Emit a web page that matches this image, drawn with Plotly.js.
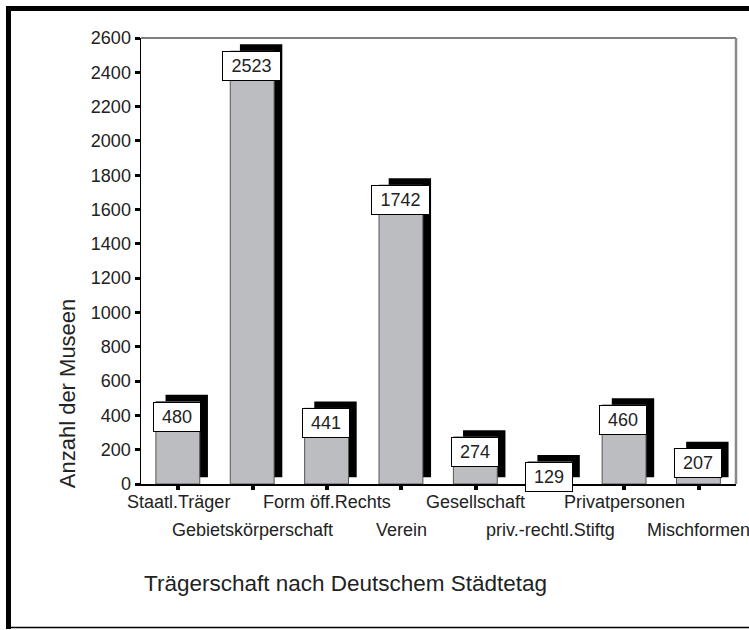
<!DOCTYPE html>
<html>
<head>
<meta charset="utf-8">
<script src="https://cdn.plot.ly/plotly-3.0.1.min.js"></script>
<style>
  html, body { margin: 0; padding: 0; background: #fff; }
  #chart { width: 749px; height: 630px; }
</style>
</head>
<body>
<div id="chart"></div>
<script>
const categories = ["Staatl.Träger", "Gebietskörperschaft", "Form öff.Rechts", "Verein",
                    "Gesellschaft", "priv.-rechtl.Stiftg", "Privatpersonen", "Mischformen"];
const counts = [480, 2523, 441, 1742, 274, 129, 460, 207];
const yTickValues = [0, 200, 400, 600, 800, 1000, 1200, 1400, 1600, 1800, 2000, 2200, 2400, 2600];
const xTitle = "Trägerschaft nach Deutschem Städtetag";
const yTitle = "Anzahl der Museen";

const FONT = "'Liberation Sans', Arial, Helvetica, sans-serif";
const TXT = "#222";
const shadowLift = 40;   // visual offset of the 3D shadow (data units)

const shadow = {
  type: "bar", x: categories, y: counts, base: shadowLift,
  width: 0.57, offset: -0.17,
  marker: { color: "#000", line: { width: 0 } },
  hoverinfo: "skip", showlegend: false
};
const bars = {
  type: "bar", x: categories, y: counts,
  width: 0.59, offset: -0.3,
  marker: { color: "#bcbdc1", line: { color: "#555", width: 1 } },
  hoverinfo: "skip", showlegend: false
};

const annotations = [];
counts.forEach((v, i) => {
  const s = String(v);
  annotations.push({
    x: categories[i], y: v, xref: "x", yref: "y",
    xanchor: "center", yanchor: "top", xshift: -1,
    text: s, showarrow: false,
    font: { family: FONT, size: 18, color: TXT },
    bgcolor: "#fff", bordercolor: "#000", borderwidth: 1,
    width: s.length > 3 ? 55 : 44, height: 26, borderpad: 1
  });
});
categories.forEach((c, i) => {
  annotations.push({
    x: c, y: 0, xref: "x", yref: "paper",
    xanchor: "center", yanchor: "middle",
    yshift: i % 2 === 0 ? -18 : -46,
    text: c, showarrow: false,
    font: { family: FONT, size: 18, color: TXT }
  });
});
annotations.push({
  x: 0.002, y: -0.222, xref: "paper", yref: "paper",
  xanchor: "left", yanchor: "middle",
  text: xTitle, showarrow: false,
  font: { family: FONT, size: 22.5, color: TXT }
});
annotations.push({
  x: -0.124, y: 0.204, xref: "paper", yref: "paper",
  xanchor: "center", yanchor: "middle", textangle: -90,
  text: yTitle, showarrow: false,
  font: { family: FONT, size: 22, color: TXT }
});

const shapes = [
  // outer frame: thick top and left, thin bottom
  { type: "rect", xref: "paper", yref: "paper", x0: -0.2269, x1: 1.03, y0: 1.0605, y1: 1.0717,
    fillcolor: "#000", line: { width: 0 }, layer: "above" },
  { type: "rect", xref: "paper", yref: "paper", x0: -0.2269, x1: -0.2185, y0: -0.325, y1: 1.0717,
    fillcolor: "#000", line: { width: 0 }, layer: "above" },
  { type: "line", xref: "paper", yref: "paper", x0: -0.2269, x1: 1.03, y0: -0.3218, y1: -0.3218,
    line: { color: "#000", width: 1.5 } },
  // plot frame top and right
  { type: "line", xref: "paper", yref: "paper", x0: 0, x1: 1, y0: 1, y1: 1,
    line: { color: "#555", width: 1.5 } },
  { type: "line", xref: "paper", yref: "paper", x0: 1, x1: 1, y0: 0, y1: 1,
    line: { color: "#888", width: 2.5 } }
];

const layout = {
  width: 749, height: 630,
  margin: { l: 141, r: 13, t: 38, b: 146 },
  paper_bgcolor: "#fff", plot_bgcolor: "#fff",
  barmode: "overlay",
  showlegend: false,
  xaxis: {
    type: "category", range: [-0.5, categories.length - 0.5],
    showline: true, linecolor: "#000", linewidth: 2,
    ticks: "outside", ticklen: 4, tickwidth: 4, tickcolor: "#000",
    showticklabels: false, showgrid: false, zeroline: false, fixedrange: true
  },
  yaxis: {
    range: [0, 2600], tickvals: yTickValues,
    showline: true, linecolor: "#000", linewidth: 1.5,
    ticks: "outside", ticklen: 5, tickwidth: 3, tickcolor: "#000",
    tickfont: { family: FONT, size: 18, color: TXT },
    showgrid: false, zeroline: false, fixedrange: true
  },
  annotations: annotations,
  shapes: shapes
};

Plotly.newPlot("chart", [shadow, bars], layout, { staticPlot: true, displayModeBar: false });
</script>
</body>
</html>
